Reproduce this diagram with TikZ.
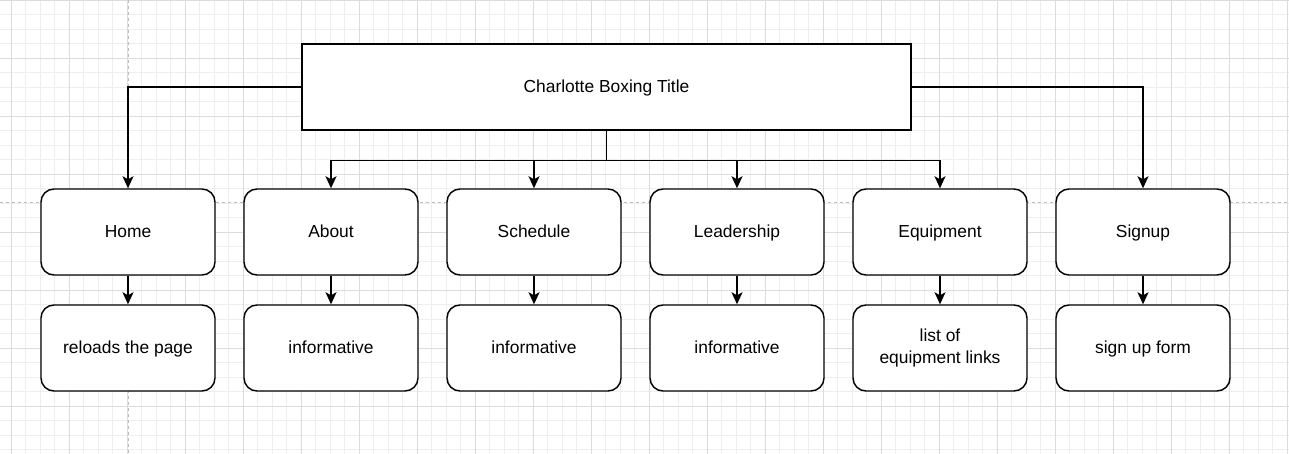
\documentclass[tikz,border=0pt]{standalone}
\usepackage{fontspec}
\setmainfont{Liberation Sans}
\usetikzlibrary{shapes.geometric, arrows.meta, positioning, calc}
\definecolor{gridminor}{HTML}{EEEEEE}
\definecolor{gridmajor}{HTML}{DCDCDC}
\definecolor{pagebreak}{HTML}{BDBDBD}
\tikzstyle{titlebox} = [rectangle, 
minimum width=609pt, 
minimum height=86pt, 
text centered, 
text height=15.6pt, 
text depth=4pt, 
draw=black, 
line width=1.45pt, 
fill=white, 
font=\fontsize{17.4}{22}\selectfont]
\tikzstyle{section} = [rectangle, 
rounded corners=13pt, 
minimum width=174pt, 
minimum height=86pt, 
text centered, 
text height=15.6pt, 
text depth=4pt, 
align=center, 
draw=black, 
line width=1.45pt, 
fill=white, 
font=\fontsize{17.4}{22}\selectfont]
\tikzstyle{arrow} = [line width=1.45pt,
-{Stealth[length=12pt, width=11pt, inset=3pt]}]
\begin{document}
\begin{tikzpicture}[node distance=203pt]
			
			\useasboundingbox (0,0) rectangle (1289pt,-454pt);
			\fill [white] (0,0) rectangle (1289pt,-454pt);
			
			% background grid
			\foreach \i in {0,...,89} \draw [gridminor, line width=1pt] ({-3.2pt+\i*14.5pt},0) -- ++(0,-454pt);
			\foreach \j in {0,...,31} \draw [gridminor, line width=1pt] (0,{-0.3pt-\j*14.5pt}) -- ++(1289pt,0);
			\foreach \i in {0,...,22} \draw [gridmajor, line width=1pt] ({11.3pt+\i*58pt},0) -- ++(0,-454pt);
			\foreach \j in {0,...,7} \draw [gridmajor, line width=1pt] (0,{-0.3pt-\j*58pt}) -- ++(1289pt,0);
			\draw [pagebreak, line width=1pt, dash pattern=on 3pt off 3pt] (128pt,0) -- (128pt,-454pt);
			\draw [pagebreak, line width=1pt, dash pattern=on 3pt off 3pt] (0,-203pt) -- (1289pt,-203pt);
			
			\node (title) [titlebox] at (606.5pt,-87pt) {Charlotte Boxing Title};
			
			\node (sec1) [section] at (128pt,-232pt) {Home};
			\node (sec2) [section, right of=sec1] {About};
			\node (sec3) [section, right of=sec2] {Schedule};
			\node (sec4) [section, right of=sec3] {Leadership};
			\node (sec5) [section, right of=sec4] {Equipment};
			\node (sec6) [section, right of=sec5] {Signup};
			
			\node (sec1a) [section, below of=sec1, yshift=87pt] {reloads the page};
			\node (sec2a) [section, below of=sec2, yshift=87pt] {informative};
			\node (sec3a) [section, below of=sec3, yshift=87pt] {informative};
			\node (sec4a) [section, below of=sec4, yshift=87pt] {informative};
			\node (sec5a) [section, below of=sec5, yshift=87pt, text height=, text depth=] {list of\\equipment links};
			\node (sec6a) [section, below of=sec6, yshift=87pt] {sign up form};
			
			\coordinate (bus) at ($(title.south)+(0,-30pt)$);
			
			\draw [arrow] (title.west) -| (sec1.north);
			\draw [arrow] (title.south) -- (bus) -| (sec2.north);
			\draw [arrow] (title.south) -- (bus) -| (sec3.north);
			\draw [arrow] (title.south) -- (bus) -| (sec4.north);
			\draw [arrow] (title.south) -- (bus) -| (sec5.north);
			\draw [arrow] (title.east) -| (sec6.north);
			\draw [arrow] (sec1) -- (sec1a);
			\draw [arrow] (sec2) -- (sec2a);
			\draw [arrow] (sec3) -- (sec3a);
			\draw [arrow] (sec4) -- (sec4a);
			\draw [arrow] (sec5) -- (sec5a);
			\draw [arrow] (sec6) -- (sec6a);
			
			
\end{tikzpicture}
\end{document}
